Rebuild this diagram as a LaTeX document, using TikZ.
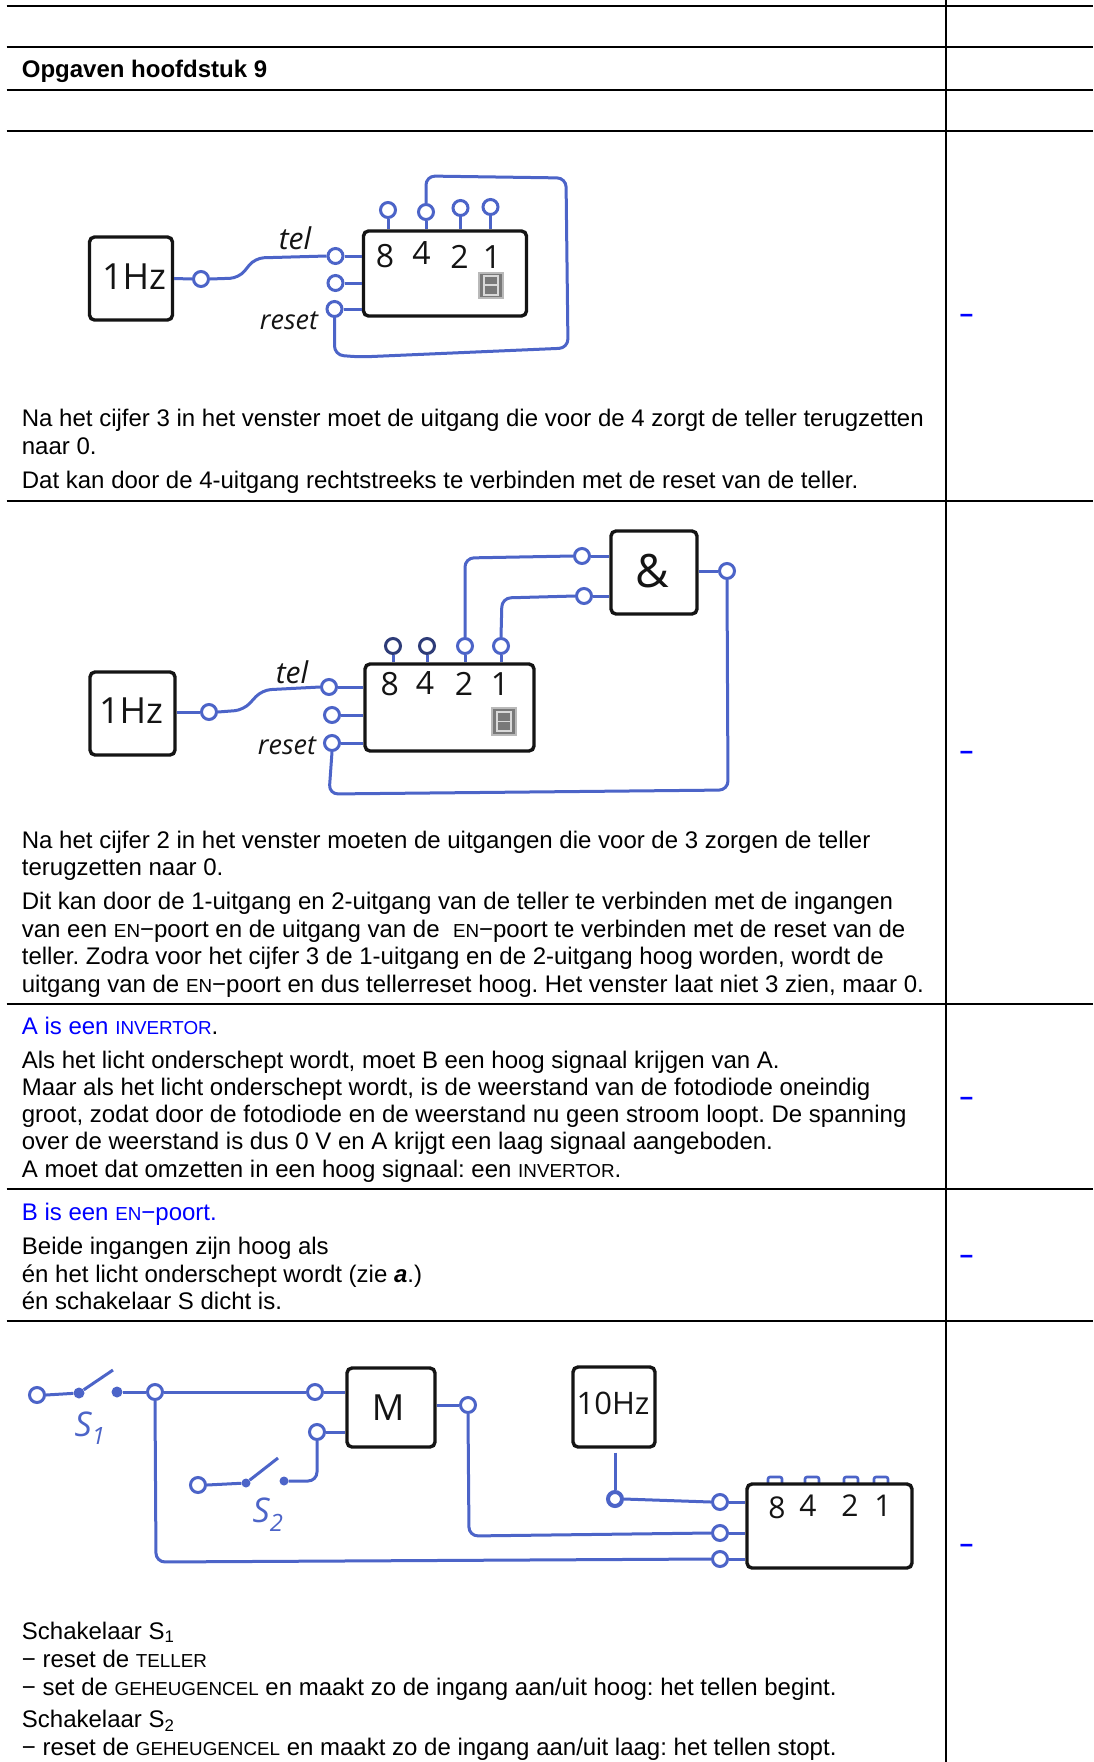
\documentclass[tikz,border=0pt]{standalone}
\usepackage{fontspec}
\setmainfont{Liberation Sans}
\newfontfamily\handfont{Open Sans}
\usetikzlibrary{calc}
\definecolor{ink}{HTML}{4C64C8}
\definecolor{inkdark}{HTML}{141414}
\definecolor{answer}{RGB}{0,0,255}
\newcommand{\sk}[1]{{\fontsize{18.8}{22}\selectfont #1}}
\newcommand{\hw}[1]{\fontsize{#1}{#1}\selectfont\handfont\itshape}
\newcommand{\hu}[1]{\fontsize{#1}{#1}\selectfont\handfont}
\newcommand{\sevenseg}[4]{%
  \fill[gray!55] (#1,#2) rectangle ++(#3,#4);
  \fill[gray!95!black] ($(#1,#2)+(2,2)$) rectangle ++($(#3,#4)-(4,4)$);
  \draw[gray!30,line width=1.8pt] ($(#1,#2)+(0.24*#3,0.16*#4)$) rectangle ($(#1,#2)+(0.76*#3,0.84*#4)$)
    ($(#1,#2)+(0.24*#3,0.5*#4)$) -- ($(#1,#2)+(0.76*#3,0.5*#4)$);
}
\tikzset{
  rule/.style={line width=2pt,black},
  txt/.style={anchor=base west,inner sep=0pt,font=\fontsize{24}{27}\selectfont\frenchspacing},
  ans/.style={txt,text=answer},
  dashmark/.style={text=answer,inner sep=0pt,font=\fontsize{23.6}{27}\selectfont\bfseries},
  blackbox/.style={draw=inkdark,line width=3.4pt,rounded corners=5pt,inner sep=0pt},
  pin/.style={circle,draw=ink,line width=3pt,fill=white,inner sep=0pt,minimum size=15pt},
  sdot/.style={circle,fill=ink,inner sep=0pt,minimum size=11pt},
  wire/.style={draw=ink,line width=3pt,rounded corners=9pt},
  stub/.style={draw=ink,line width=2.6pt,rounded corners=2pt,inner sep=0pt,minimum width=14pt,minimum height=8pt},
  digit/.style={inner sep=0pt,text=inkdark},
  lbl/.style={inner sep=0pt,text=ink},
}
\begin{document}
\begin{tikzpicture}[x=1pt,y=-1pt]
\useasboundingbox (0,0) rectangle (1093,1762);
\fill[white] (0,0) rectangle (1093,1762);
% table
\foreach \yy in {6,47,90,131,501,1004,1189,1321}{\draw[rule] (6.5,\yy) -- (1093,\yy);}
\draw[rule] (945.5,0) -- (945.5,1762);
% right-hand marks
\node[dashmark] (m1) at (966.5,319) {−};
\node[dashmark] (m2) at (966.5,756) {−};
\node[dashmark] (m3) at (966.5,1101.5) {−};
\node[dashmark] (m4) at (966.5,1259.5) {−};
\node[dashmark] (m5) at (966.5,1548.5) {−};
% texts
\node[txt] (h) at (21.7,77.2) {\bfseries Opgaven hoofdstuk 9};
\node[txt] (a1) at (21.7,426.5) {Na het cijfer 3 in het venster moet de uitgang die voor de 4 zorgt de teller terugzetten};
\node[txt] (a2) at (21.7,454.5) {naar 0.};
\node[txt] (a3) at (21.7,488) {Dat kan door de 4-uitgang rechtstreeks te verbinden met de reset van de teller.};
\node[txt] (b1) at (21.7,848.5) {Na het cijfer 2 in het venster moeten de uitgangen die voor de 3 zorgen de teller};
\node[txt] (b2) at (21.7,875.5) {terugzetten naar 0.};
\node[txt] (b3) at (21.7,909.2) {Dit kan door de 1-uitgang en 2-uitgang van de teller te verbinden met de ingangen};
\node[txt] (b4) at (21.7,937.3) {van een \sk{EN}−poort en de uitgang van de \ \sk{EN}−poort te verbinden met de reset van de};
\node[txt] (b5) at (21.7,964.3) {teller. Zodra voor het cijfer 3 de 1-uitgang en de 2-uitgang hoog worden, wordt de};
\node[txt] (b6) at (21.7,992.3) {uitgang van de \sk{EN}−poort en dus tellerreset hoog. Het venster laat niet 3 zien, maar 0.};
\node[ans] (c1) at (21.7,1034) {A is een \sk{INVERTOR}\textcolor{black}{.}};
\node[txt] (c2) at (21.7,1068.5) {Als het licht onderschept wordt, moet B een hoog signaal krijgen van A.};
\node[txt] (c3) at (21.7,1095.5) {Maar als het licht onderschept wordt, is de weerstand van de fotodiode oneindig};
\node[txt] (c4) at (21.7,1122.5) {groot, zodat door de fotodiode en de weerstand nu geen stroom loopt. De spanning};
\node[txt] (c5) at (21.7,1149.5) {over de weerstand is dus 0 V en A krijgt een laag signaal aangeboden.};
\node[txt] (c6) at (21.7,1177.5) {A moet dat omzetten in een hoog signaal: een \sk{INVERTOR}.};
\node[ans] (d1) at (21.7,1220) {B is een \sk{EN}−poort.};
\node[txt] (d2) at (21.7,1254) {Beide ingangen zijn hoog als};
\node[txt] (d3) at (21.7,1282) {én het licht onderschept wordt (zie {\bfseries\itshape a}.)};
\node[txt] (d4) at (21.7,1309) {én schakelaar S dicht is.};
\node[txt] (e1) at (21.7,1639) {Schakelaar S\textsubscript{1}};
\node[txt] (e2) at (21.7,1667) {− reset de \sk{TELLER}};
\node[txt] (e3) at (21.7,1695) {− set de \sk{GEHEUGENCEL} en maakt zo de ingang aan/uit hoog: het tellen begint.};
\node[txt] (e4) at (21.7,1727.5) {Schakelaar S\textsubscript{2}};
\node[txt] (e5) at (21.7,1755.5) {− reset de \sk{GEHEUGENCEL} en maakt zo de ingang aan/uit laag: het tellen stopt.};

% ---------- diagram 1
\node[blackbox,minimum width=83pt,minimum height=83pt] (hz1) at (131,278.5) {};
\node[digit,font=\hu{36}] (hz1t) at (134,277) {1Hz};
\node[blackbox,minimum width=163pt,minimum height=85pt] (cnt1) at (445,273.5) {};
\node[pin] (o1) at (201,279) {};
\node[pin] (tel1) at (335.5,256) {};
\node[pin] (mid1) at (335.5,283) {};
\node[pin] (rst1) at (334.5,309) {};
\node[pin] (q18) at (388,210) {};
\node[pin] (q14) at (426,212) {};
\node[pin] (q12) at (460.5,208) {};
\node[pin] (q11) at (490.5,207) {};
\foreach \n in {q18,q14,q12,q11}{\draw[wire] (\n.south) -- (\n.south |- cnt1.north);}
\draw[wire] (hz1.east) -- (o1.west);
\coordinate (c11) at (239,278); \coordinate (c12) at (255,258);
\draw[wire] (o1.east) -- (c11) -- (c12) -- (tel1.west);
\draw[wire] (tel1.east) -- (tel1.east -| cnt1.west);
\draw[wire] (mid1.east) -- (mid1.east -| cnt1.west);
\draw[wire] (rst1.east) -- (rst1.east -| cnt1.west);
\coordinate (c13) at (426,176); \coordinate (c14) at (566,178); \coordinate (c15) at (568,348);
\coordinate (c16) at (360,357); \coordinate (c17) at (334.5,355);
\draw[wire] (q14.north) -- (c13) -- (c14) -- (c15) -- (c16) -- (c17) -- (rst1.south);
\node[digit,font=\hu{32}] (t18) at (385,256) {8};
\node[digit,font=\hu{32}] (t14) at (421.6,253) {4};
\node[digit,font=\hu{32}] (t12) at (459.5,257) {2};
\node[digit,font=\hu{32}] (t11) at (492,257) {1};
\sevenseg{477.7}{271.7}{26.3}{27.3}
\node[digit,font=\hw{30}] (tt1) at (295,238) {tel};
\node[digit,font=\hw{27}] (tr1) at (289,321) {reset};

% ---------- diagram 2
\node[blackbox,minimum width=85pt,minimum height=83pt] (hz2) at (132.5,713.5) {};
\node[digit,font=\hu{36}] (hz2t) at (131,711) {1Hz};
\node[blackbox,minimum width=169pt,minimum height=87pt] (cnt2) at (449.5,707.5) {};
\node[blackbox,minimum width=86pt,minimum height=83pt] (en2) at (654,572.5) {};
\node[digit,font=\hu{46}] (en2t) at (652,571) {\&};
\node[pin] (o2) at (209,712) {};
\node[pin] (tel2) at (329,687) {};
\node[pin] (mid2) at (332,715) {};
\node[pin] (rst2) at (332,743) {};
\node[pin,draw=ink!60!black] (q28) at (393,646) {};
\node[pin,draw=ink!60!black] (q24) at (427,646) {};
\node[pin] (q22) at (465,646) {};
\node[pin] (q21) at (501,646) {};
\foreach \n in {q28,q24,q22,q21}{\draw[wire] (\n.south) -- (\n.south |- cnt2.north);}
\node[pin] (a21) at (582,556) {};
\node[pin] (a22) at (584,596) {};
\node[pin] (o22) at (727,571) {};
\draw[wire] (hz2.east |- o2) -- (o2.west);
\coordinate (c21) at (243.6,710); \coordinate (c22) at (262,690);
\draw[wire] (o2.east) -- (c21) -- (c22) -- (tel2.west);
\draw[wire] (tel2.east) -- (tel2.east -| cnt2.west);
\draw[wire] (mid2.east) -- (mid2.east -| cnt2.west);
\draw[wire] (rst2.east) -- (rst2.east -| cnt2.west);
\coordinate (c23) at (465,558); \coordinate (c24) at (502,598);
\draw[wire] (q22.north) -- (c23) -- (a21.west);
\draw[wire] (q21.north) -- (c24) -- (a22.west);
\draw[wire] (a21.east) -- (a21.east -| en2.west);
\draw[wire] (a22.east) -- (a22.east -| en2.west);
\draw[wire] (en2.east |- o22) -- (o22.west);
\coordinate (c25) at (728,790); \coordinate (c26) at (329,794);
\draw[wire] (o22.south) -- (c25) -- (c26) -- (rst2.south);
\node[digit,font=\hu{32}] (t28) at (389.7,684) {8};
\node[digit,font=\hu{32}] (t24) at (425,683) {4};
\node[digit,font=\hu{32}] (t22) at (464,684) {2};
\node[digit,font=\hu{32}] (t21) at (500,684) {1};
\sevenseg{490.7}{707}{26.3}{29}
\node[digit,font=\hw{30}] (tt2) at (292,672) {tel};
\node[digit,font=\hw{27}] (tr2) at (287,746) {reset};

% ---------- diagram 3
\node[blackbox,minimum width=88pt,minimum height=79pt] (mem) at (391,1407.5) {};
\node[digit,font=\hu{36}] (memt) at (388,1408) {M};
\node[blackbox,minimum width=82pt,minimum height=80pt] (hz3) at (614,1407) {};
\node[digit,font=\hu{31}] (hz3t) at (613,1403) {10Hz};
\node[pin] (s1a) at (37,1395) {};
\node[sdot] (s1b) at (79,1393) {};
\coordinate (s1e) at (113,1370);
\node[sdot] (s1c) at (117,1392) {};
\node[pin] (j1) at (155,1392) {};
\node[pin] (m1in) at (315,1392) {};
\node[pin] (m2in) at (317,1432) {};
\node[sdot,minimum size=9pt] (s2c) at (284,1481) {};
\node[pin] (s2a) at (198,1485) {};
\node[sdot,minimum size=9pt] (s2b) at (246,1483) {};
\coordinate (s2e) at (278,1458);
\node[pin] (mout) at (468,1405) {};
\node[pin] (clk) at (720,1502) {};
\node[pin] (ci2) at (720,1533) {};
\node[pin] (ci3) at (720,1559) {};
\node[pin,minimum size=14pt,line width=4pt] (j3) at (615,1499) {};
\draw[wire] (s1a.east) -- (s1b);
\draw[wire] (s1b) -- (s1e);
\draw[wire] (s1c) -- (j1.west);
\draw[wire] (j1.east) -- (m1in.west);
\draw[wire] (m1in.east) -- (m1in.east -| mem.west);
\draw[wire] (m2in.east) -- (m2in.east -| mem.west);
\coordinate (c31) at (317,1481);
\draw[wire] (m2in.south) -- (c31) -- (s2c);
\draw[wire] (s2a.east) -- (s2b);
\draw[wire] (s2b) -- (s2e);
\draw[wire] (mem.east |- mout) -- (mout.west);
\coordinate (c32) at (469,1536);
\draw[wire] (mout.south) -- (c32) -- (ci2.west);
\coordinate (c33) at (156,1562);
\draw[wire] (j1.south) -- (c33) -- (ci3.west);
\coordinate (c34) at ($(hz3.south -| j3)+(0,4)$);
\draw[wire] (c34) -- (j3.north);
\draw[wire] (j3.east) -- (clk.west);
\node[stub] (u1) at (775,1481) {};
\node[stub] (u2) at (812,1481) {};
\node[stub] (u3) at (851,1481) {};
\node[stub] (u4) at (881,1481) {};
\node[blackbox,minimum width=165pt,minimum height=84pt,fill=white] (cnt3) at (829.5,1526) {};
\draw[wire] (clk.east) -- (clk.east -| cnt3.west);
\draw[wire] (ci2.east) -- (ci2.east -| cnt3.west);
\draw[wire] (ci3.east) -- (ci3.east -| cnt3.west);
\node[digit,font=\hu{30}] (t38) at (777,1508) {8};
\node[digit,font=\hu{30}] (t34) at (808,1506) {4};
\node[digit,font=\hu{30}] (t32) at (850,1506) {2};
\node[digit,font=\hu{30}] (t31) at (883,1506) {1};
\node[lbl,font=\hw{34}] (ls1) at (90,1428) {S\textsubscript{1}};
\node[lbl,font=\hw{34}] (ls2) at (268,1515) {S\textsubscript{2}};
\end{tikzpicture}
\end{document}
